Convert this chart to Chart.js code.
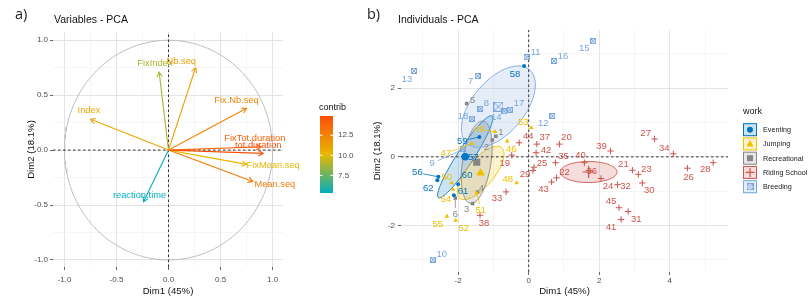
<!DOCTYPE html>
<html lang="en">
<head>
<meta charset="UTF-8">
<title>PCA - variables and individuals</title>
<script src="https://cdn.jsdelivr.net/npm/chart.js"></script>
<style>
  html, body { margin: 0; padding: 0; background: #fff; }
  body { width: 811px; height: 296px; position: relative; overflow: hidden; font-family: "Liberation Sans", Arial, sans-serif; }
  canvas { position: absolute; top: 0; }
  #varChart { left: 0; }
  #indChart { left: 360px; }
  .tag { position: absolute; top: 7px; font-family: "Open Sans", sans-serif; font-size: 14.5px; line-height: 1; color: #1a1a1a; }
  .ttl { position: absolute; top: 13px; font-size: 10.5px; line-height: 12px; color: #111; }
</style>
</head>
<body>
<canvas id="varChart" width="360" height="296"></canvas>
<canvas id="indChart" width="451" height="296"></canvas>
<div class="tag" style="left:15px">a)</div>
<div class="ttl" style="left:54px">Variables - PCA</div>
<div class="tag" style="left:367px">b)</div>
<div class="ttl" style="left:398px">Individuals - PCA</div>

<script>
const FONT = '"Liberation Sans", Arial, Helvetica, sans-serif';
Chart.defaults.font.family = FONT;

// ---- a) variables: coordinates on Dim1 / Dim2 and contribution ----
const varNames   = ['Index', 'FixIndex', 'Nb.seq', 'Fix.Nb.seq', 'FixTot.duration', 'tot.duration', 'FixMean.seq', 'Mean.seq', 'reaction.time'];
const varDim1    = [-0.75, -0.09, 0.26, 0.75, 0.89, 0.91, 0.75, 0.81, -0.24];
const varDim2    = [0.28, 0.71, 0.75, 0.38, 0.03, -0.03, -0.13, -0.285, -0.47];
const varContrib = [10.9, 8.9, 11.3, 12.4, 13.9, 14.9, 10.1, 12.9, 5.3];
const varTicks = [-1, -0.5, 0, 0.5, 1];
const varTickLabels = ['-1.0', '-0.5', '0.0', '0.5', '1.0'];
const varMinorTicks = [-0.75, -0.25, 0.25, 0.75];
const contribTicks = [7.5, 10, 12.5];
const contribTickLabels = ['7.5', '10.0', '12.5'];

// ---- b) individuals ----
const workGroups = ['Eventing', 'Jumping', 'Recreational', 'Riding School', 'Breeding'];
const indIds = [];
for (let i = 1; i <= 62; i++) indIds.push(i);
const indDim1 = [
  -0.93, -1.03, -1.59, -1.45, -1.76, -2.08,                                   // 1-6
  -1.45, -1.37, -1.86, -2.72, -0.06, 0.67, -3.25, -0.69, 1.83, 0.72, -0.53, -1.61, // 7-18
  -0.48, 0.87, 2.94, 0.79, 3.11, 2.05, 0.15, 4.50, 3.57, 5.23, 0.12, 3.22, 2.82, 2.52, // 19-32
  -0.64, 4.10, 0.76, 1.70, 0.23, -1.38, 2.32, 1.58, 2.62, 0.21, 0.65, -0.27, 2.56,   // 33-45
  -0.61, -1.61, -0.34, -0.95, -2.18, -1.47, -2.07, 0.07, -2.15, -2.32,              // 46-55
  -2.56, -1.80, -0.13, -1.40, -2.00, -2.12, -2.59                                   // 56-62
];
const indDim2 = [
  0.60, 0.49, -1.36, -1.02, 1.55, -1.20,
  2.35, 1.40, 0.22, -2.99, 2.90, 1.19, 2.50, 1.32, 3.36, 2.79, 1.37, 1.11,
  0.05, 0.37, -0.39, -0.61, -0.51, -0.63, -0.30, -0.33, 0.52, -0.17, -0.40, -0.76, -1.59, -0.81,
  -1.02, 0.09, -0.17, -0.40, 0.37, -1.70, 0.17, -0.17, -1.82, 0.12, -0.73, 0.41, -1.48,
  0.46, 0.39, -0.76, 0.73, -0.76, -1.05, -1.85, 0.85, -0.95, -1.73,
  -0.58, -0.03, 2.64, 0.58, -0.80, -1.12, -0.68
];
const indWork = [
  'Recreational', 'Recreational', 'Recreational', 'Recreational', 'Recreational', 'Recreational',
  'Breeding', 'Breeding', 'Breeding', 'Breeding', 'Breeding', 'Breeding',
  'Breeding', 'Breeding', 'Breeding', 'Breeding', 'Breeding', 'Breeding',
  'Riding School', 'Riding School', 'Riding School', 'Riding School', 'Riding School', 'Riding School', 'Riding School',
  'Riding School', 'Riding School', 'Riding School', 'Riding School', 'Riding School', 'Riding School', 'Riding School',
  'Riding School', 'Riding School', 'Riding School', 'Riding School', 'Riding School', 'Riding School', 'Riding School',
  'Riding School', 'Riding School', 'Riding School', 'Riding School', 'Riding School', 'Riding School',
  'Jumping', 'Jumping', 'Jumping', 'Jumping', 'Jumping', 'Jumping', 'Jumping', 'Jumping', 'Jumping', 'Jumping',
  'Eventing', 'Eventing', 'Eventing', 'Eventing', 'Eventing', 'Eventing', 'Eventing'
];
const indXTicks = [-2, 0, 2, 4];
const indXTickLabels = ['-2', '0', '2', '4'];
const indXMinorTicks = [-3, -1, 1, 3, 5];
const indYTicks = [-2, 0, 2];
const indYTickLabels = ['-2', '0', '2'];
const indYMinorTicks = [-3, -1, 1, 3];

// styling
const workColors = ['#0073C2', '#EFC000', '#868686', '#CD534C', '#7AA6DC'];
const gradColors = ['#00AFBB', '#E7B800', '#FC4E07'];

// label placement (px offsets from the point; third item = draw a segment)
const varLabelNudge = [[-1.5, -8.6], [-4.3, -8.4], [-14.3, -6.6], [-10, -7.6], [-6.3, -8.7], [-5, -7.9], [26.6, 0.7], [22, 2.6], [-4, -6]];
const indLabelNudge = {
  1: [5, -4], 2: [-6, 7], 3: [-6, 6], 4: [4, -4], 5: [6, -3], 6: [0, 16, 1],
  7: [-7, 5], 8: [6, -5], 9: [-31, 14, 1], 10: [9, -5], 11: [9, -5], 12: [-9, 7], 13: [-7, 8], 14: [-8, 6],
  15: [-9, 7], 16: [9, -5], 17: [9, -6], 18: [-9, -2],
  19: [-7, 8], 20: [7, -7], 21: [-9, -6], 22: [8, -5], 23: [8, -5], 24: [7, 8], 25: [8, -4], 26: [1, 9],
  27: [-9, -6], 28: [-8, 7], 29: [-8, 4], 30: [7, 7], 31: [8, 8], 32: [8, 2], 33: [-9, 6], 34: [-9, -5],
  35: [8, -6], 36: [3, 1], 37: [8, -7], 38: [4, 8], 39: [-9, -5], 40: [-4, -7], 41: [-10, 8], 42: [10, -2],
  43: [-8, 7], 44: [9, -6], 45: [-8, -6],
  46: [4, 8], 47: [-26, 10, 1], 48: [-9, -4], 49: [-16, -2, 1], 50: [-5, -6], 51: [4, 17, 1], 52: [8, 8],
  53: [-8, -5], 54: [-7, 10], 55: [-9, 8],
  56: [-21, -4, 1], 57: [8, -1], 58: [-9, 8], 59: [-17, 4, 1], 60: [9, -9], 61: [9, -4], 62: [-9, 8]
};

function hexRgb(h) { return [1, 3, 5].map(k => parseInt(h.slice(k, k + 2), 16)); }
function mix(a, b, t) {
  const A = hexRgb(a), B = hexRgb(b);
  return 'rgb(' + A.map((v, k) => Math.round(v + (B[k] - v) * t)).join(',') + ')';
}
function alpha(h, a) { return 'rgba(' + hexRgb(h).join(',') + ',' + a + ')'; }
const cLo = Math.min(...varContrib), cHi = Math.max(...varContrib);
function contribColor(v) {
  let t = Math.max(0, Math.min(1, (v - cLo) / (cHi - cLo)));
  return t < 0.5 ? mix(gradColors[0], gradColors[1], t * 2) : mix(gradColors[1], gradColors[2], (t - 0.5) * 2);
}

function axis(o) {
  const all = o.major.concat(o.minor).sort((a, b) => a - b);
  const isMajor = c => c.tick && o.major.includes(c.tick.value);
  return {
    type: 'linear', min: o.min, max: o.max,
    afterBuildTicks: s => { s.ticks = all.map(v => ({ value: v })); },
    afterFit: s => { if (o.horizontal) s.height = o.size; else s.width = o.size; },
    ticks: {
      autoSkip: false, maxRotation: 0, padding: o.pad, color: '#4D4D4D', font: { family: FONT, size: 8 },
      callback: v => { const k = o.major.indexOf(v); return k < 0 ? '' : o.labels[k]; }
    },
    grid: {
      drawTicks: true, tickLength: 3, tickWidth: 1,
      color: c => isMajor(c) ? '#E4E4E4' : '#F0F0F0',
      lineWidth: c => isMajor(c) ? 1 : 0.7,
      tickColor: c => isMajor(c) ? '#666' : 'rgba(0,0,0,0)'
    },
    border: { display: false },
    title: { display: true, text: o.title, color: '#111', font: { family: FONT, size: 9.6, lineHeight: 1 }, padding: o.titlePad }
  };
}

// ---------------- a) variables chart ----------------
const vx = [-1.11, 1.10], vy = [-1.064, 1.075];
const unitCircle = [];
for (let a = 0; a <= 360; a += 2) unitCircle.push({ x: Math.cos(a * Math.PI / 180), y: Math.sin(a * Math.PI / 180) });

const varDatasets = varNames.map((n, i) => ({
  label: n,
  data: [{ x: 0, y: 0 }, { x: varDim1[i], y: varDim2[i] }],
  showLine: true, borderColor: contribColor(varContrib[i]), borderWidth: 1.1, pointRadius: 0
}));
varDatasets.push(
  { label: 'h0', data: [{ x: vx[0], y: 0 }, { x: vx[1], y: 0 }], showLine: true, borderColor: '#333', borderWidth: 1, borderDash: [2.5, 2.5], pointRadius: 0 },
  { label: 'v0', data: [{ x: 0, y: vy[0] }, { x: 0, y: vy[1] }], showLine: true, borderColor: '#333', borderWidth: 1, borderDash: [2.5, 2.5], pointRadius: 0 },
  { label: 'circle', data: unitCircle, showLine: true, borderColor: '#BDBDBD', borderWidth: 1, pointRadius: 0 }
);

const varDecor = {
  id: 'varDecor',
  afterDatasetsDraw(chart) {
    const { ctx, scales: { x, y } } = chart;
    const ox = x.getPixelForValue(0), oy = y.getPixelForValue(0);
    ctx.save();
    varNames.forEach((n, i) => {
      const px = x.getPixelForValue(varDim1[i]), py = y.getPixelForValue(varDim2[i]);
      const col = contribColor(varContrib[i]);
      const ang = Math.atan2(py - oy, px - ox), L = 5.5, w = Math.PI / 6;
      ctx.strokeStyle = col; ctx.lineWidth = 1.1;
      ctx.beginPath();
      ctx.moveTo(px - L * Math.cos(ang - w), py - L * Math.sin(ang - w));
      ctx.lineTo(px, py);
      ctx.lineTo(px - L * Math.cos(ang + w), py - L * Math.sin(ang + w));
      ctx.stroke();
      ctx.fillStyle = col;
      ctx.font = '9.3px ' + FONT;
      ctx.textAlign = 'center'; ctx.textBaseline = 'middle';
      ctx.fillText(n, px + varLabelNudge[i][0], py + varLabelNudge[i][1]);
    });
    ctx.restore();
  },
  afterDraw(chart) {
    const ctx = chart.ctx;
    const bar = { left: 320, top: 116, w: 13, h: 77 };
    ctx.save();
    const g = ctx.createLinearGradient(0, bar.top + bar.h, 0, bar.top);
    g.addColorStop(0, gradColors[0]); g.addColorStop(0.5, gradColors[1]); g.addColorStop(1, gradColors[2]);
    ctx.fillStyle = g;
    ctx.fillRect(bar.left, bar.top, bar.w, bar.h);
    ctx.fillStyle = '#111'; ctx.font = '9px ' + FONT;
    ctx.textAlign = 'left'; ctx.textBaseline = 'middle';
    ctx.fillText('contrib', 319, 108);
    ctx.font = '8px ' + FONT; ctx.fillStyle = '#4D4D4D';
    contribTicks.forEach((v, k) => {
      const ty = bar.top + bar.h - (v - cLo) / (cHi - cLo) * bar.h;
      ctx.strokeStyle = '#fff'; ctx.lineWidth = 1;
      ctx.beginPath();
      ctx.moveTo(bar.left, ty); ctx.lineTo(bar.left + 2.5, ty);
      ctx.moveTo(bar.left + bar.w - 2.5, ty); ctx.lineTo(bar.left + bar.w, ty);
      ctx.stroke();
      ctx.fillText(contribTickLabels[k], 338, ty);
    });
    ctx.restore();
  }
};

new Chart(document.getElementById('varChart'), {
  type: 'scatter',
  data: { datasets: varDatasets },
  options: {
    responsive: false, animation: false, devicePixelRatio: 1, events: [],
    layout: { padding: { left: 0, right: 77, top: 32, bottom: 0 } },
    plugins: { legend: { display: false }, tooltip: { enabled: false } },
    scales: {
      x: axis({ min: vx[0], max: vx[1], major: varTicks, minor: varMinorTicks, labels: varTickLabels, horizontal: true, size: 29, pad: 5, title: 'Dim1 (45%)', titlePad: { top: 0, bottom: 0 } }),
      y: axis({ min: vy[0], max: vy[1], major: varTicks, minor: varMinorTicks, labels: varTickLabels, horizontal: false, size: 53, pad: 2, title: 'Dim2 (18.1%)', titlePad: { top: 27, bottom: 0 } })
    }
  },
  plugins: [varDecor]
});

// ---------------- b) individuals chart ----------------
const ix = [-3.62, 5.65], iy = [-3.35, 3.69];

function boxCross(size, color) {
  const c = document.createElement('canvas');
  c.width = c.height = size;
  const g = c.getContext('2d');
  g.strokeStyle = color; g.lineWidth = 1;
  g.strokeRect(0.5, 0.5, size - 1, size - 1);
  g.beginPath();
  g.moveTo(0.5, 0.5); g.lineTo(size - 0.5, size - 0.5);
  g.moveTo(size - 0.5, 0.5); g.lineTo(0.5, size - 0.5);
  g.stroke();
  return c;
}
const workPoint = [
  { pointStyle: 'circle', radius: 2, borderWidth: 0 },
  { pointStyle: 'triangle', radius: 2.7, borderWidth: 0 },
  { pointStyle: 'rect', radius: 2.5, borderWidth: 0 },
  { pointStyle: 'cross', radius: 3.2, borderWidth: 1 },
  { pointStyle: boxCross(6, workColors[4]), radius: 3, borderWidth: 0 }
];
const workMean = [
  { pointStyle: 'circle', radius: 3.8, borderWidth: 0 },
  { pointStyle: 'triangle', radius: 5, borderWidth: 0 },
  { pointStyle: 'rect', radius: 5, borderWidth: 0 },
  { pointStyle: 'cross', radius: 6, borderWidth: 1.2 },
  { pointStyle: boxCross(10, workColors[4]), radius: 5, borderWidth: 0 }
];

function members(g) { return indIds.map((id, i) => i).filter(i => indWork[i] === g); }
function groupMean(g) {
  const m = members(g);
  return { x: m.reduce((s, i) => s + indDim1[i], 0) / m.length, y: m.reduce((s, i) => s + indDim2[i], 0) / m.length };
}
// 95% confidence ellipse of the group mean (cov / n, chi-square 2 df)
function confEllipse(g) {
  const m = members(g), n = m.length, c = groupMean(g);
  let sxx = 0, syy = 0, sxy = 0;
  m.forEach(i => { const dx = indDim1[i] - c.x, dy = indDim2[i] - c.y; sxx += dx * dx; syy += dy * dy; sxy += dx * dy; });
  sxx /= (n - 1) * n; syy /= (n - 1) * n; sxy /= (n - 1) * n;
  const tr = sxx + syy, det = sxx * syy - sxy * sxy, d = Math.sqrt(Math.max(0, tr * tr / 4 - det));
  const l1 = tr / 2 + d, l2 = Math.max(0, tr / 2 - d);
  const th = Math.atan2(l1 - sxx, sxy), t = Math.sqrt(5.991);
  const pts = [];
  for (let k = 0; k <= 100; k++) {
    const a = 2 * Math.PI * k / 100;
    const u = t * Math.sqrt(l1) * Math.cos(a), v = t * Math.sqrt(l2) * Math.sin(a);
    pts.push({ x: c.x + u * Math.cos(th) - v * Math.sin(th), y: c.y + u * Math.sin(th) + v * Math.cos(th) });
  }
  return pts;
}

const indDatasets = [];
workGroups.forEach((g, k) => {
  const c = groupMean(g);
  indDatasets.push(Object.assign({ label: g + ' mean', data: [c], backgroundColor: workColors[k], borderColor: workColors[k] }, workMean[k]));
});
workGroups.forEach((g, k) => {
  indDatasets.push(Object.assign({
    label: g,
    data: members(g).map(i => ({ x: indDim1[i], y: indDim2[i] })),
    backgroundColor: workColors[k], borderColor: workColors[k]
  }, workPoint[k]));
});
indDatasets.push(
  { label: 'h0', data: [{ x: ix[0], y: 0 }, { x: ix[1], y: 0 }], showLine: true, borderColor: '#333', borderWidth: 1, borderDash: [2.5, 2.5], pointRadius: 0 },
  { label: 'v0', data: [{ x: 0, y: iy[0] }, { x: 0, y: iy[1] }], showLine: true, borderColor: '#333', borderWidth: 1, borderDash: [2.5, 2.5], pointRadius: 0 }
);

function drawSymbol(ctx, k, x, y) {
  const col = workColors[k];
  ctx.fillStyle = col; ctx.strokeStyle = col; ctx.lineWidth = 1.2;
  const s = workMean[k].pointStyle;
  ctx.beginPath();
  if (s === 'circle') { ctx.arc(x, y, 3, 0, 2 * Math.PI); ctx.fill(); }
  else if (s === 'triangle') { ctx.moveTo(x, y - 4); ctx.lineTo(x + 3.6, y + 2.6); ctx.lineTo(x - 3.6, y + 2.6); ctx.closePath(); ctx.fill(); }
  else if (s === 'rect') { ctx.fillRect(x - 3, y - 3, 6, 6); }
  else if (s === 'cross') { ctx.moveTo(x - 4.5, y); ctx.lineTo(x + 4.5, y); ctx.moveTo(x, y - 4.5); ctx.lineTo(x, y + 4.5); ctx.stroke(); }
  else { ctx.drawImage(boxCross(7, col), x - 3.5, y - 3.5); }
}

const indDecor = {
  id: 'indDecor',
  beforeDatasetsDraw(chart) {
    const { ctx, chartArea: a, scales: { x, y } } = chart;
    ctx.save();
    ctx.beginPath(); ctx.rect(a.left, a.top, a.right - a.left, a.bottom - a.top); ctx.clip();
    workGroups.forEach((g, k) => {
      const pts = confEllipse(g);
      ctx.beginPath();
      pts.forEach((p, j) => {
        const px = x.getPixelForValue(p.x), py = y.getPixelForValue(p.y);
        if (j === 0) ctx.moveTo(px, py); else ctx.lineTo(px, py);
      });
      ctx.closePath();
      ctx.fillStyle = alpha(workColors[k], 0.2);
      ctx.fill();
      ctx.strokeStyle = workColors[k]; ctx.lineWidth = 0.9;
      ctx.stroke();
    });
    ctx.restore();
  },
  afterDatasetsDraw(chart) {
    const { ctx, scales: { x, y } } = chart;
    ctx.save();
    ctx.font = '9.5px ' + FONT;
    ctx.textAlign = 'center'; ctx.textBaseline = 'middle';
    indIds.forEach((id, i) => {
      const k = workGroups.indexOf(indWork[i]);
      const px = x.getPixelForValue(indDim1[i]), py = y.getPixelForValue(indDim2[i]);
      const n = indLabelNudge[id] || [6, -6];
      const lx = px + n[0], ly = py + n[1];
      if (n[2]) {
        const dist = Math.hypot(n[0], n[1]), f = Math.max(0, 1 - 6 / dist);
        ctx.strokeStyle = workColors[k]; ctx.lineWidth = 0.8;
        ctx.beginPath(); ctx.moveTo(px, py); ctx.lineTo(px + n[0] * f, py + n[1] * f); ctx.stroke();
      }
      ctx.fillStyle = workColors[k];
      ctx.fillText(String(id), lx, ly);
    });
    ctx.restore();
  },
  afterDraw(chart) {
    const ctx = chart.ctx;
    ctx.save();
    ctx.fillStyle = '#111'; ctx.font = '9px ' + FONT;
    ctx.textAlign = 'left'; ctx.textBaseline = 'middle';
    ctx.fillText('work', 383, 112);
    workGroups.forEach((g, k) => {
      const cy = 129.7 + k * 14.25;
      ctx.fillStyle = alpha(workColors[k], 0.2);
      ctx.fillRect(383, cy - 6.5, 14, 13);
      ctx.strokeStyle = workColors[k]; ctx.lineWidth = 1;
      ctx.strokeRect(383.5, cy - 6, 13, 12);
      drawSymbol(ctx, k, 390, cy);
      ctx.fillStyle = '#222'; ctx.font = '7.2px ' + FONT;
      ctx.fillText(g, 403, cy + 0.5);
    });
    ctx.restore();
  }
};

new Chart(document.getElementById('indChart'), {
  type: 'scatter',
  data: { datasets: indDatasets },
  options: {
    responsive: false, animation: false, devicePixelRatio: 1, events: [],
    layout: { padding: { left: 0, right: 83, top: 30, bottom: 0 } },
    plugins: { legend: { display: false }, tooltip: { enabled: false } },
    scales: {
      x: axis({ min: ix[0], max: ix[1], major: indXTicks, minor: indXMinorTicks, labels: indXTickLabels, horizontal: true, size: 24, pad: 1, title: 'Dim1 (45%)', titlePad: { top: 0, bottom: 0 } }),
      y: axis({ min: iy[0], max: iy[1], major: indYTicks, minor: indYMinorTicks, labels: indYTickLabels, horizontal: false, size: 41, pad: 3, title: 'Dim2 (18.1%)', titlePad: { top: 13, bottom: 0 } })
    }
  },
  plugins: [indDecor]
});
</script>
</body>
</html>
